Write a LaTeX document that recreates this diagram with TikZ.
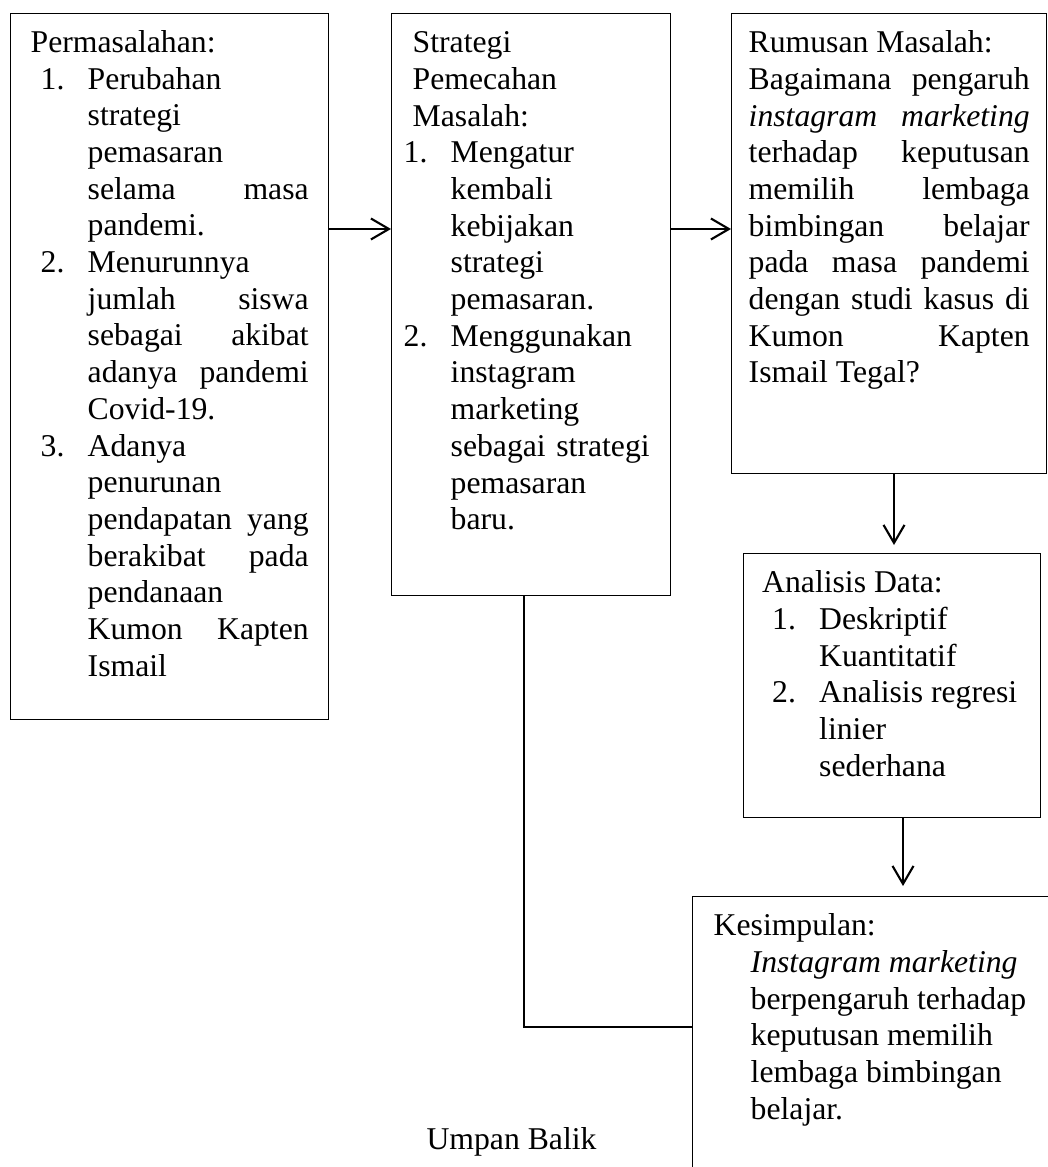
\documentclass[tikz,border=0pt]{standalone}
\usepackage{fontspec}
\setmainfont{Liberation Serif}
\usetikzlibrary{arrows.meta}

\newcommand{\nomor}[2][0.10cm]{\hspace*{#1}\makebox[0.47cm][l]{#2}}
\newcommand{\sisip}[1][0.57cm]{\hspace*{#1}}

\begin{document}
\begin{tikzpicture}[>={Straight Barb[length=0.18cm,width=0.21cm]},
    kotak/.style={draw, line width=0.4pt, anchor=north west, inner xsep=0.20cm, inner ysep=0pt,
      text height=0.39cm, font=\fontsize{9.02pt}{10.44pt}\selectfont,
      execute at begin node={\spaceskip=0pt\xspaceskip=0pt\relax}},
    panah/.style={->, line width=0.6pt},
    teks/.style={font=\fontsize{9.02pt}{10.44pt}\selectfont, inner sep=0pt}]
  \useasboundingbox (0,0) rectangle (10.47,-11.67);

  \node[kotak, text width=2.78cm, text depth=6.67cm] (masalah) at (0.10,-0.127) {Permasalahan:\\
    \nomor{1.}Perubahan\\
    \sisip strategi\\
    \sisip pemasaran\\
    \sisip selama\hfill masa\\
    \sisip pandemi.\\
    \nomor{2.}Menurunnya\\
    \sisip jumlah\hfill siswa\\
    \sisip sebagai\hfill akibat\\
    \sisip adanya\hfill pandemi\\
    \sisip Covid-19.\\
    \nomor{3.}Adanya\\
    \sisip penurunan\\
    \sisip pendapatan\hfill yang\\
    \sisip berakibat\hfill pada\\
    \sisip pendanaan\\
    \sisip Kumon\hfill Kapten\\
    \sisip Ismail};

  \node[kotak, inner xsep=0.21cm, text width=2.37cm, text depth=5.43cm] (strategi) at (3.91,-0.13) {Strategi\\
    Pemecahan\\
    Masalah:\\
    \nomor[-0.09cm]{1.}Mengatur\\
    \sisip[0.38cm]kembali\\
    \sisip[0.38cm]kebijakan\\
    \sisip[0.38cm]strategi\\
    \sisip[0.38cm]pemasaran.\\
    \nomor[-0.09cm]{2.}Menggunakan\\
    \sisip[0.38cm]instagram\\
    \sisip[0.38cm]marketing\\
    \sisip[0.38cm]sebagai\hfill strategi\\
    \sisip[0.38cm]pemasaran\\
    \sisip[0.38cm]baru.};

  \node[kotak, inner xsep=0.17cm, text width=2.81cm, text depth=4.21cm] (rumusan) at (7.31,-0.13) {Rumusan Masalah:\\
    Bagaimana\hfill pengaruh\\
    \textit{instagram}\hfill\textit{marketing}\\
    terhadap\hfill keputusan\\
    memilih\hfill lembaga\\
    bimbingan\hfill belajar\\
    pada\hfill masa\hfill pandemi\\
    dengan\hfill studi\hfill kasus\hfill di\\
    Kumon\hfill Kapten\\
    Ismail Tegal?};

  \node[kotak, inner xsep=0.185cm, text width=2.60cm, text depth=2.25cm] (analisis) at (7.43,-5.53) {Analisis Data:\\
    \nomor{1.}Deskriptif\\
    \sisip Kuantitatif\\
    \nomor{2.}Analisis regresi\\
    \sisip linier\\
    \sisip sederhana};

  \node[kotak, inner xsep=0.21cm, text width=3.28cm, text depth=2.75cm] (simpulan) at (6.92,-8.96) {Kesimpulan:\\
    \sisip[0.37cm]\textit{Instagram marketing}\\
    \sisip[0.37cm]berpengaruh terhadap\\
    \sisip[0.37cm]keputusan memilih\\
    \sisip[0.37cm]lembaga bimbingan\\
    \sisip[0.37cm]belajar.};

  \coordinate (tengah) at (0,-2.29);
  \draw[panah] (masalah.east |- tengah) -- (strategi.west |- tengah);
  \draw[panah] (strategi.east |- tengah) -- (rumusan.west |- tengah);
  \draw[panah, shorten >=0.08cm] ([xshift=1.63cm]rumusan.south west) coordinate (r1) -- (r1 |- analisis.north);
  \draw[panah, shorten >=0.1cm] ([xshift=1.60cm]analisis.south west) coordinate (a1) -- (a1 |- simpulan.north);

  \coordinate (belok) at (5.24,-10.27);
  \draw[line width=0.6pt] (strategi.south -| belok) -- (belok) -- (belok -| simpulan.west);
  \node[teks, anchor=base] (umpan) at (5.115,-11.49) {Umpan Balik};
\end{tikzpicture}
\end{document}
